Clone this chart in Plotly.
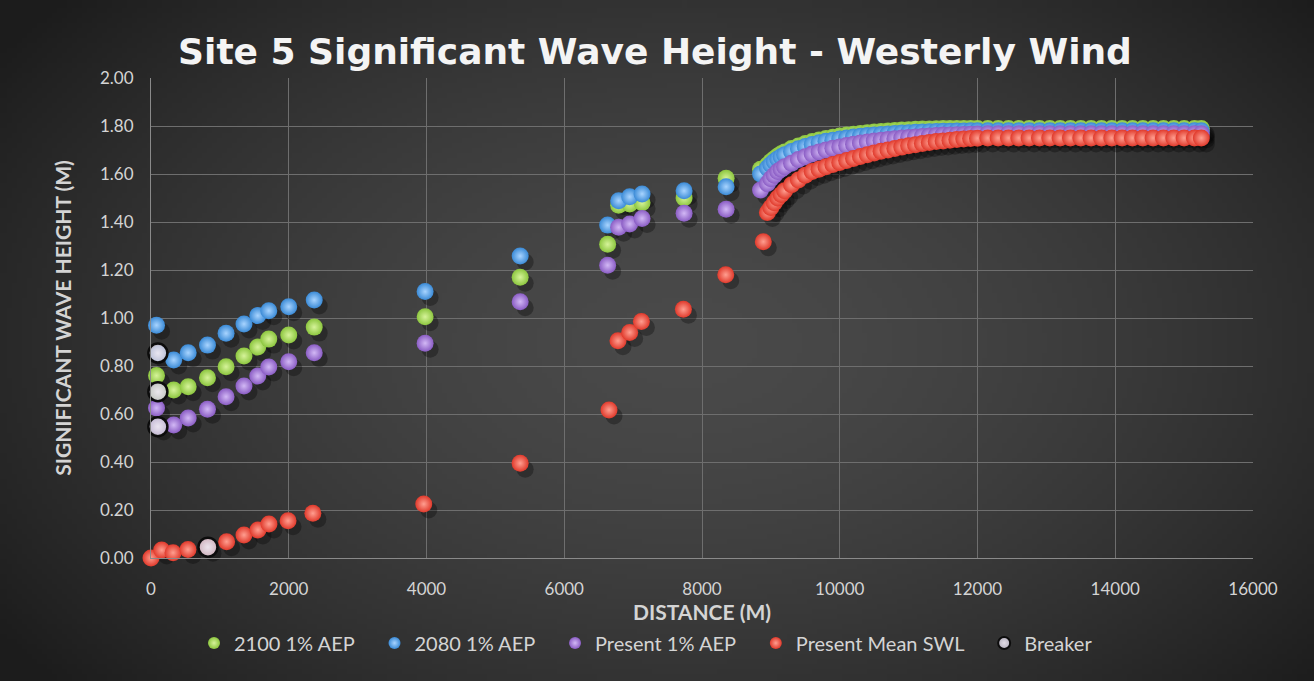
import base64, struct, zlib
import numpy as np
import plotly.graph_objects as go

# ---------------- data ----------------
# sparse (near-shore) points
x_sparse = [80, 110, 330, 540, 820, 1090, 1350, 1550, 1710, 2000, 2370, 3980, 5360, 6630, 6790, 6950, 7130, 7740, 8350, 8850]
green_sparse = [0.76, 0.69, 0.70, 0.714, 0.751, 0.797, 0.842, 0.879, 0.912, 0.929, 0.962, 1.005, 1.17, 1.307, 1.47, 1.475, 1.48, 1.50, 1.582, 1.62]
blue_sparse = [0.97, 0.85, 0.825, 0.855, 0.887, 0.936, 0.975, 1.01, 1.03, 1.047, 1.075, 1.11, 1.258, 1.387, 1.489, 1.505, 1.517, 1.53, 1.547, 1.60]
purple_sparse = [0.625, 0.55, 0.554, 0.583, 0.62, 0.672, 0.717, 0.758, 0.796, 0.818, 0.855, 0.895, 1.068, 1.22, 1.378, 1.392, 1.415, 1.436, 1.453, 1.533]
x_red_sparse = [0, 155, 320, 537, 827, 1098, 1350, 1553, 1713, 1990, 2350, 3960, 5360, 6650, 6780, 6950, 7120, 7730, 8345, 8890]
red_sparse = [0.0, 0.033, 0.022, 0.035, 0.045, 0.068, 0.096, 0.117, 0.142, 0.155, 0.186, 0.225, 0.395, 0.617, 0.905, 0.94, 0.985, 1.036, 1.18, 1.318]

# dense (offshore) points
x_dense = [8950, 9000, 9050, 9100, 9150, 9200, 9300, 9400, 9500, 9600, 9700, 9800, 9900, 10000,
           10100, 10200, 10300, 10400, 10500, 10600, 10700, 10800, 10900, 11000, 11100, 11200,
           11300, 11400, 11500, 11600, 11700, 11800, 11900, 12000, 12150, 12300, 12450, 12600,
           12750, 12900, 13050, 13200, 13350, 13500, 13650, 13800, 13950, 14100, 14250, 14400,
           14550, 14700, 14850, 15000, 15150, 15250]
red_dense = [1.44, 1.46, 1.48, 1.50, 1.515, 1.53, 1.555, 1.575, 1.595, 1.61, 1.62, 1.63, 1.64, 1.648,
             1.656, 1.665, 1.673, 1.68, 1.688, 1.695, 1.70, 1.706, 1.712, 1.718, 1.722, 1.727,
             1.731, 1.735, 1.738, 1.741, 1.744, 1.746, 1.748, 1.749, 1.75, 1.75, 1.75, 1.75,
             1.75, 1.75, 1.75, 1.75, 1.75, 1.75, 1.75, 1.75, 1.75, 1.75, 1.75, 1.75,
             1.75, 1.75, 1.75, 1.75, 1.75, 1.75]
purple_dense = [1.56, 1.58, 1.595, 1.61, 1.62, 1.63, 1.645, 1.66, 1.672, 1.683, 1.692, 1.70, 1.707, 1.713,
                1.719, 1.724, 1.729, 1.733, 1.737, 1.741, 1.744, 1.747, 1.75, 1.752, 1.754, 1.756,
                1.758, 1.76, 1.762, 1.763, 1.764, 1.765, 1.766, 1.767, 1.768, 1.768, 1.768, 1.768,
                1.768, 1.768, 1.768, 1.768, 1.768, 1.768, 1.768, 1.768, 1.768, 1.768, 1.768, 1.768,
                1.768, 1.768, 1.768, 1.768, 1.768, 1.768]
blue_dense = [1.625, 1.64, 1.652, 1.663, 1.672, 1.68, 1.694, 1.705, 1.715, 1.723, 1.73, 1.736, 1.741, 1.746,
              1.75, 1.754, 1.757, 1.76, 1.763, 1.765, 1.767, 1.769, 1.771, 1.772, 1.774, 1.775,
              1.776, 1.777, 1.778, 1.778, 1.779, 1.779, 1.78, 1.78, 1.78, 1.78, 1.78, 1.78,
              1.78, 1.78, 1.78, 1.78, 1.78, 1.78, 1.78, 1.78, 1.78, 1.78, 1.78, 1.78,
              1.78, 1.78, 1.78, 1.78, 1.78, 1.78]
green_dense = [1.637, 1.652, 1.664, 1.675, 1.684, 1.692, 1.706, 1.717, 1.727, 1.735, 1.742, 1.748, 1.753, 1.758,
               1.762, 1.766, 1.769, 1.772, 1.775, 1.777, 1.779, 1.781, 1.783, 1.784, 1.786, 1.787,
               1.788, 1.789, 1.79, 1.79, 1.79, 1.79, 1.79, 1.79, 1.79, 1.79, 1.79, 1.79,
               1.79, 1.79, 1.79, 1.79, 1.79, 1.79, 1.79, 1.79, 1.79, 1.79, 1.79, 1.79,
               1.79, 1.79, 1.79, 1.79, 1.79, 1.79]

x_breaker = [100, 100, 100, 827]
breaker = [0.854, 0.693, 0.547, 0.045]

series_names = ["2100 1% AEP", "2080 1% AEP", "Present 1% AEP", "Present Mean SWL"]
x_ticks = [0, 2000, 4000, 6000, 8000, 10000, 12000, 14000, 16000]
y_ticks = [0.0, 0.2, 0.4, 0.6, 0.8, 1.0, 1.2, 1.4, 1.6, 1.8, 2.0]

# ---------------- background (radial vignette as PNG) ----------------
def make_png(w, h):
    yy, xx = np.mgrid[0:h, 0:w]
    cx, cy = w * 0.52, h * 0.5
    d = np.sqrt(((xx - cx) / (w * 0.62)) ** 2 + ((yy - cy) / (h * 0.75)) ** 2)
    v = np.clip(74 - 44 * d ** 1.6, 28, 80).astype(np.uint8)
    raw = b"".join(b"\x00" + bytes(np.stack([v[r], v[r], v[r]], axis=1).flatten()) for r in range(h))
    def chunk(t, data):
        c = struct.pack(">I", len(data)) + t + data
        return c + struct.pack(">I", zlib.crc32(t + data) & 0xffffffff)
    png = b"\x89PNG\r\n\x1a\n" + chunk(b"IHDR", struct.pack(">IIBBBBB", w, h, 8, 2, 0, 0, 0))
    png += chunk(b"IDAT", zlib.compress(raw, 9)) + chunk(b"IEND", b"")
    return "data:image/png;base64," + base64.b64encode(png).decode()

bg = make_png(263, 136)

# ---------------- figure ----------------
W, H = 1314, 681
ml, mr, mt, mb = 151, 61, 78, 123
pw, ph = W - ml - mr, H - mt - mb
x_range = [0, 16000]
y_range = [0, 2]
dx_shadow = 5 * (x_range[1] - x_range[0]) / pw
dy_shadow = -6 * (y_range[1] - y_range[0]) / ph

colors = ["#8cc63e", "#3a8ad6", "#8a5cc4", "#e0392b"]
highlights = ["#d6f39a", "#a8d4ff", "#d2b8f5", "#ff9e90"]
xs = [x_sparse + x_dense, x_sparse + x_dense, x_sparse + x_dense, x_red_sparse + x_dense]
ys = [green_sparse + green_dense, blue_sparse + blue_dense, purple_sparse + purple_dense, red_sparse + red_dense]

fig = go.Figure()
MS = 17

# shadows
for x, y in zip(xs, ys):
    fig.add_trace(go.Scatter(
        x=[v + dx_shadow for v in x], y=[v + dy_shadow for v in y], mode="markers",
        marker=dict(size=MS, color="rgba(0,0,0,0.3)", line=dict(width=0)),
        showlegend=False, hoverinfo="skip", cliponaxis=False))

pad = "\u00a0\u00a0\u00a0"
for name, x, y, c, hl in zip(series_names, xs, ys, colors, highlights):
    fig.add_trace(go.Scatter(
        x=x, y=y, mode="markers", name=name + pad,
        marker=dict(size=MS, color=c, line=dict(width=0),
                    gradient=dict(type="radial", color=hl)),
        cliponaxis=False))

fig.add_trace(go.Scatter(
    x=x_breaker, y=breaker, mode="markers", name="Breaker",
    marker=dict(size=MS + 2, color="rgba(205,200,215,0.85)",
                line=dict(width=2.5, color="#0c0c0c"),
                gradient=dict(type="radial", color="rgba(235,230,240,0.95)")),
    cliponaxis=False))

tick_font = dict(family="Lato, Carlito, sans-serif", size=17, color="#d4d4d4")
title_font = dict(family="Lato, sans-serif", size=21, color="#d4d4d4", weight="bold")

fig.update_layout(
    width=W, height=H,
    margin=dict(l=ml, r=mr, t=mt, b=mb, autoexpand=False),
    paper_bgcolor="#2e2e2e", plot_bgcolor="rgba(0,0,0,0)",
    images=[dict(source=bg, xref="paper", yref="paper",
                 x=-ml / pw, y=1 + mt / ph, sizex=W / pw, sizey=H / ph,
                 sizing="stretch", xanchor="left", yanchor="top", layer="below")],
    title=dict(text="<b>Site 5 Significant Wave Height - Westerly Wind</b>",
               x=655 / W, xanchor="center", xref="container",
               y=1 - 51 / H, yanchor="middle", yref="container",
               font=dict(family="DejaVu Sans, sans-serif", size=36, color="#f4f4f4")),
    xaxis=dict(range=x_range, tickvals=x_ticks, ticktext=[str(v) for v in x_ticks],
               showgrid=True, gridcolor="#6e6e6e", gridwidth=1,
               zeroline=False, showline=True, linecolor="#8a8a8a", linewidth=1,
               tickfont=tick_font, ticks="", ticklabelstandoff=16,
               title=dict(text="DISTANCE (M)", font=title_font, standoff=0)),
    yaxis=dict(range=y_range, tickvals=y_ticks, ticktext=[f"{v:.2f}" for v in y_ticks],
               showgrid=True, gridcolor="#6e6e6e", gridwidth=1,
               zeroline=False, showline=True, linecolor="#8a8a8a", linewidth=1,
               tickfont=tick_font, ticks="", ticklabelstandoff=13,
               title=dict(text="SIGNIFICANT WAVE HEIGHT (M)", font=title_font, standoff=22)),
    legend=dict(orientation="h", x=(646 - ml) / pw, xanchor="center",
                y=-(643 - mt - ph) / ph, yanchor="middle",
                font=dict(family="Lato, sans-serif", size=20, color="#d4d4d4"),
                bgcolor="rgba(0,0,0,0)", itemsizing="constant", itemwidth=30,
                traceorder="normal"),
    showlegend=True,
)

fig.write_html("out.html")
